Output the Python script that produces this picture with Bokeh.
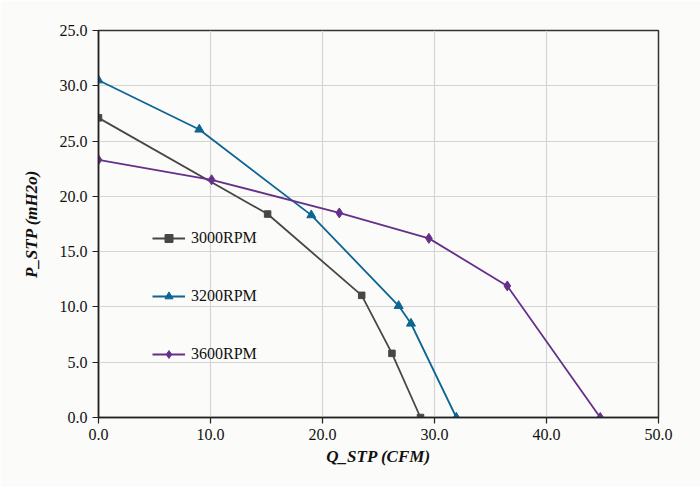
from bokeh.plotting import figure
from bokeh.models import Range1d, FixedTicker, Legend, LegendItem
from bokeh.embed import file_html
from bokeh.resources import INLINE

# Fan curves: static pressure vs. flow at three speeds
q_3000 = [0.0, 15.1, 23.5, 26.2, 28.75]
p_3000 = [27.1, 18.4, 11.05, 5.8, 0.0]

q_3200 = [0.0, 9.0, 19.0, 26.8, 27.9, 31.95]
p_3200 = [30.5, 26.05, 18.3, 10.1, 8.5, 0.0]

q_3600 = [0.0, 10.1, 21.5, 29.5, 36.5, 44.8]
p_3600 = [23.3, 21.5, 18.5, 16.2, 11.9, 0.0]

x_ticks = [0, 10, 20, 30, 40, 50]
y_ticks = [0, 5, 10, 15, 20, 25, 30, 35]
y_tick_labels = ["0.0", "5.0", "10.0", "15.0", "20.0", "25.0", "30.0", "25.0"]

BG = "#fbfbf9"
SERIF = "Liberation Serif"

p = figure(width=700, height=487, output_backend="svg", toolbar_location=None,
           x_range=Range1d(0, 50), y_range=Range1d(0, 35),
           min_border_left=98, min_border_right=42, min_border_top=30, min_border_bottom=70,
           background_fill_color=BG, border_fill_color=BG)

p.outline_line_color = "#333333"
p.outline_line_width = 1.5

p.xaxis.ticker = FixedTicker(ticks=x_ticks)
p.yaxis.ticker = FixedTicker(ticks=y_ticks)
p.xaxis.major_label_overrides = {t: f"{t:.1f}" for t in x_ticks}
p.yaxis.major_label_overrides = {t: lab for t, lab in zip(y_ticks, y_tick_labels)}

for ax in (p.xaxis[0], p.yaxis[0]):
    ax.axis_line_color = "#222222"
    ax.axis_line_width = 1.5
    ax.major_tick_line_color = "#222222"
    ax.major_tick_line_width = 1.2
    ax.major_tick_out = 6
    ax.major_tick_in = 0
    ax.minor_tick_line_color = None
    ax.major_label_text_font = SERIF
    ax.major_label_text_font_size = "16px"
    ax.major_label_text_color = "#111111"
    ax.axis_label_text_font = SERIF
    ax.axis_label_text_font_size = "17px"
    ax.axis_label_text_font_style = "bold italic"
    ax.axis_label_text_color = "#111111"

p.xaxis.axis_label = "Q_STP (CFM)"
p.yaxis.axis_label = "P_STP (mH2o)"
p.xaxis.major_label_standoff = 5
p.yaxis.major_label_standoff = 5
p.xaxis.axis_label_standoff = 4
p.yaxis.axis_label_standoff = 16

p.xgrid.grid_line_color = "#d4d4d4"
p.ygrid.grid_line_color = "#d4d4d4"
p.xgrid.grid_line_width = 1.2
p.ygrid.grid_line_width = 1.2

series = [
    ("3000RPM", q_3000, p_3000, "#474747", "square", 6.5),
    ("3200RPM", q_3200, p_3200, "#0d6594", "triangle", 9),
    ("3600RPM", q_3600, p_3600, "#66308a", "diamond", 10),
]

items = []
for name, xs, ys, color, marker, size in series:
    ln = p.line(xs, ys, line_color=color, line_width=1.8)
    mk = p.scatter(xs, ys, marker=marker, size=size, fill_color=color, line_color=color)
    items.append(LegendItem(label=name, renderers=[ln, mk]))

legend = Legend(items=items, location=(54, 53),
                background_fill_alpha=0, border_line_color=None,
                label_text_font=SERIF, label_text_font_size="16px",
                label_text_color="#111111",
                glyph_width=33, glyph_height=20, label_height=20,
                spacing=38, padding=0, margin=0, label_standoff=6)
p.add_layout(legend, "center")

open("out.html", "w").write(file_html(p, INLINE))
